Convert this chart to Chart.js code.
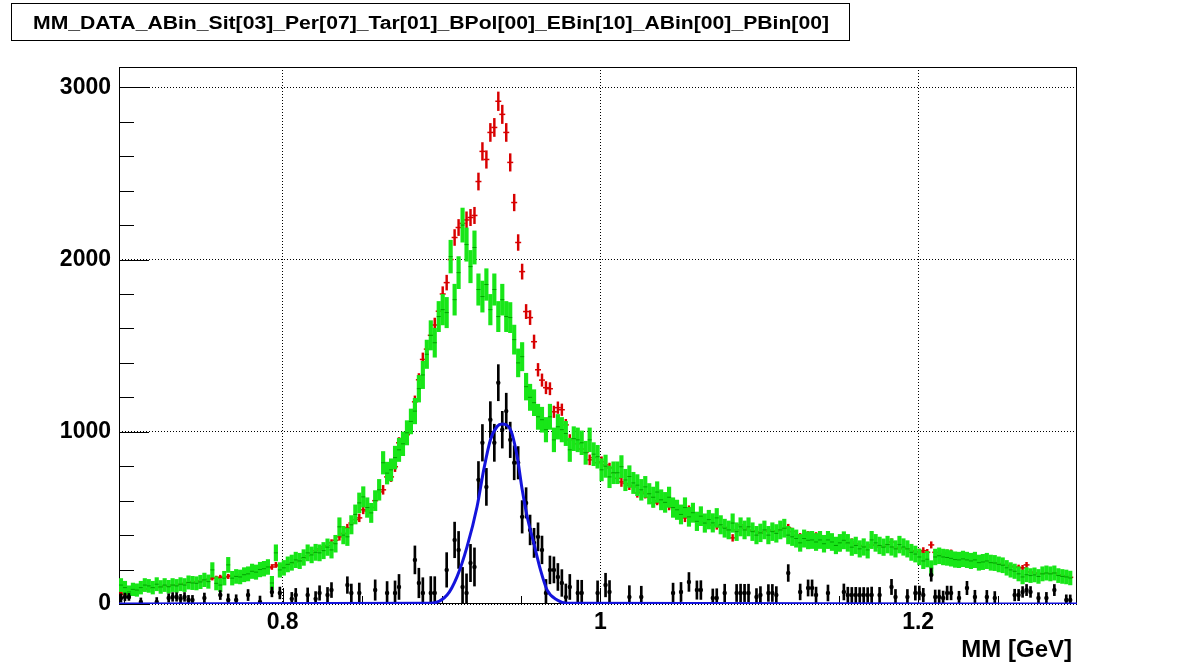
<!DOCTYPE html>
<html lang="en">
<head>
  <meta charset="UTF-8">
  <title>MM histogram</title>
  <style>
    body { margin: 0; background: #fff; }
    #wrap { width: 1196px; height: 672px; }
  </style>
</head>
<body>
  <div id="wrap"><canvas id="myChart" width="1196" height="672"></canvas></div>
  <script src="https://cdn.jsdelivr.net/npm/chart.js"></script>
  <script>
    const histTitle = 'MM_DATA_ABin_Sit[03]_Per[07]_Tar[01]_BPol[00]_EBin[10]_ABin[00]_PBin[00]';
    const xTitle = 'MM [GeV]';

    // 240 bins
    const binStart = 0.697;
    const binWidth = 0.0025;

    const redCounts = [
      64, 55, 70, 70, 75, 80, 85, 90, 95, 95,
      100, 105, 105, 110, 110, 115, 120, 125, 130, 128,
      135, 140, 145, 151, 150, 155, 157, 160, 165, 165,
      170, 178, 186, 190, 195, 200, 205, 210, 215, 227,
      221, 225, 230, 235, 244, 250, 265, 280, 295, 310,
      320, 331, 340, 355, 370, 390, 410, 442, 470, 490,
      500, 547, 540, 560, 600, 651, 663, 738, 738, 797,
      936, 942, 983, 1050, 1174, 1302, 1420, 1480, 1560, 1620,
      1700, 1800, 1866, 2000, 2128, 2186, 2210, 2230, 2244, 2256,
      2453, 2628, 2581, 2738, 2767, 2919, 2843, 2738, 2564, 2331,
      2099, 1930, 1698, 1663, 1523, 1360, 1300, 1256, 1250, 1116,
      1140, 1128, 1040, 953, 960, 930, 900, 880, 837, 850,
      820, 826, 808, 790, 760, 730, 709, 700, 690, 680,
      645, 650, 640, 620, 587, 600, 587, 590, 570, 560,
      550, 530, 500, 547, 520, 506, 500, 480, 459, 460,
      455, 448, 445, 430, 384, 430, 459, 440, 430, 425,
      420, 410, 420, 430, 425, 420, 430, 440, 442, 420,
      400, 390, 395, 401, 401, 395, 390, 370, 343, 350,
      343, 326, 360, 350, 360, 350, 340, 335, 331, 343,
      340, 331, 335, 345, 360, 330, 320, 325, 320, 310,
      305, 302, 310, 300, 343, 300, 285, 290, 297, 297,
      280, 273, 270, 267, 260, 255, 250, 245, 245, 240,
      240, 235, 230, 225, 220, 215, 212, 210, 227, 186,
      180, 178, 175, 178, 176, 180, 170, 165, 160, 155
    ];

    const greenCounts = [
      110, 95, 70, 85, 81, 95, 110, 105, 95, 115,
      99, 110, 100, 110, 105, 115, 110, 125, 122, 120,
      128, 140, 130, 198, 120, 110, 150, 227, 150, 160,
      157, 170, 175, 190, 185, 200, 205, 215, 122, 297,
      198, 210, 230, 240, 256, 250, 270, 297, 285, 300,
      297, 310, 330, 314, 350, 448, 400, 390, 460, 520,
      587, 622, 560, 529, 600, 663, 820, 760, 779, 850,
      895, 930, 994, 1060, 1120, 1250, 1330, 1450, 1560, 1517,
      1669, 1709, 1692, 2017, 1767, 1924, 2200, 2087, 1959, 2070,
      1826, 1785, 1855, 1709, 1826, 1669, 1767, 1669, 1663, 1535,
      1400, 1436, 1262, 1200, 1169, 1087, 1070, 1012, 1087, 953,
      1029, 1012, 990, 895, 960, 953, 936, 878, 953, 870,
      855, 779, 800, 738, 762, 762, 797, 720, 740, 703,
      690, 663, 680, 640, 620, 650, 605, 590, 620, 560,
      547, 520, 560, 506, 530, 480, 510, 470, 490, 471,
      500, 460, 440, 430, 470, 420, 448, 430, 448, 420,
      400, 413, 430, 400, 420, 410, 430, 440, 400, 390,
      380, 355, 380, 370, 372, 360, 372, 350, 372, 360,
      340, 355, 370, 355, 330, 340, 320, 331, 314, 372,
      355, 340, 330, 345, 331, 320, 345, 331, 320, 300,
      290, 273, 250, 260, 209, 273, 280, 273, 270, 265,
      258, 256, 262, 256, 250, 256, 240, 244, 250, 240,
      238, 230, 225, 210, 198, 190, 175, 157, 170, 165,
      169, 160, 175, 180, 175, 180, 165, 160, 157, 151
    ];

    const blackCounts = [
      35, 41, 41, 0, -10, 12, 0, -20, 0, 12,
      -10, 0, 35, 41, 41, 30, 41, 23, 23, -10,
      0, 35, 0, -20, 0, 52, 0, 23, 0, 23,
      -20, 0, 52, 0, -30, 12, 0, -10, 70, 0,
      64, -20, 0, 30, 52, 0, -10, 52, 0, 30,
      64, 0, 52, 81, 0, -30, 0, 110, 64, 0,
      64, 0, -20, 0, 81, 0, -30, 64, 0, 64,
      99, -10, -40, 0, 256, 122, 64, -20, 64, 64,
      0, -30, 198, 0, 372, 314, 99, 64, 238, 215,
      721, 936, 680, 1070, 936, 1285, 1012, 1120, 953, 820,
      820, 506, 587, 430, 355, 390, 314, 64, 198, 198,
      157, 122, 40, 99, 0, 64, 64, 0, -20, 0,
      64, -30, 110, 70, -40, 0, -20, 0, 41, 0,
      -30, 41, 0, -10, 0, -20, 0, 0, -30, 64,
      0, 70, -20, 128, 0, 81, 81, 0, -10, 35,
      35, -20, 64, 0, -30, 64, 64, 64, 64, 0,
      41, 52, 0, 64, 64, 52, 0, -20, 180, -10,
      0, 70, 0, 93, 93, 52, 0, -20, 64, 0,
      -10, 0, 70, 52, 52, 52, 52, 52, 52, 52,
      0, 52, 0, -10, 99, 41, 0, -20, 41, 0,
      64, 64, 52, 0, 169, 41, 41, 35, 64, 64,
      0, 35, -20, 93, 0, 41, 0, -20, 41, 0,
      35, 0, -20, 0, 0, 52, 52, 70, 81, 70,
      0, 35, -10, 35, 0, 81, -20, 0, 23, 23
    ];

    // fitted gaussian
    const fitX = [0.697, 0.893, 0.9035, 0.9098, 0.9161, 0.9224, 0.9266, 0.9308, 0.935, 0.9381,
      0.9434, 0.9476, 0.9508, 0.9539, 0.9581, 0.9623, 0.9665, 0.9728, 0.9791, 1.3];
    const fitY = [0, 4, 52, 159, 333, 566, 780, 954, 1031, 1045,
      1012, 857, 663, 508, 353, 198, 81, 23, 4, 0];

    const xTickValues = [0.8, 1.0, 1.2];
    const xTickLabels = ['0.8', '1', '1.2'];
    const yTickValues = [0, 1000, 2000, 3000];

    const FONT = '"Liberation Sans", Arial, Helvetica, sans-serif';
    const binCenters = redCounts.map((v, i) => binStart + binWidth * (i + 0.5));

    const redErr = redCounts.map(v => Math.sqrt(Math.max(v, 0)));
    const greenErr = greenCounts.map(v => Math.sqrt(4 * Math.max(v, 0) + 1000));
    const blackErr = blackCounts.map((v, i) => Math.sqrt(redCounts[i] + 4.84 * greenCounts[i]));

    function markers(vals) {
      return vals.map((v, i) => ({ x: binCenters[i], y: v })).filter(p => p.y > 0);
    }
    function errorBars(vals, errs) {
      return vals.map((v, i) => ({ x: binCenters[i], y: [Math.max(v - errs[i], 0), v + errs[i]] }))
        .filter((p, i) => vals[i] > 0);
    }

    const rootFrame = {
      id: 'rootFrame',
      beforeDatasetsDraw(chart) {
        const { ctx, chartArea: a, scales } = chart;
        ctx.save();
        ctx.strokeStyle = '#000';
        ctx.lineWidth = 1;
        ctx.strokeRect(a.left + 0.5, a.top + 0.5, a.right - a.left - 1, a.bottom - a.top - 1);
        ctx.beginPath();
        for (let v = 0; v <= 3118; v += 200) {
          const y = Math.round(scales.y.getPixelForValue(v)) + 0.5;
          const len = v % 1000 === 0 ? 30 : 15;
          ctx.moveTo(a.left, y);
          ctx.lineTo(a.left + len, y);
        }
        for (let v = 0.70; v <= 1.3; v += 0.05) {
          const x = Math.round(scales.x.getPixelForValue(v)) + 0.5;
          const major = xTickValues.some(t => Math.abs(t - v) < 1e-6);
          ctx.moveTo(x, a.bottom);
          ctx.lineTo(x, a.bottom - (major ? 16 : 8));
        }
        ctx.stroke();
        ctx.restore();
      },
      afterDraw(chart) {
        const { ctx } = chart;
        ctx.save();
        // title box
        ctx.fillStyle = '#fff';
        ctx.fillRect(11, 3, 838, 37);
        ctx.strokeStyle = '#000';
        ctx.lineWidth = 1;
        ctx.strokeRect(11.5, 3.5, 838, 37);
        ctx.fillStyle = '#000';
        ctx.font = 'bold 18px ' + FONT;
        const w = ctx.measureText(histTitle).width;
        ctx.translate(431, 29);
        ctx.scale(796 / w, 1);
        ctx.textAlign = 'center';
        ctx.textBaseline = 'alphabetic';
        ctx.fillText(histTitle, 0, 0);
        ctx.restore();

        ctx.save();
        ctx.fillStyle = '#000';
        ctx.font = 'bold 24px ' + FONT;
        ctx.textAlign = 'right';
        ctx.textBaseline = 'alphabetic';
        ctx.fillText(xTitle, 1072, 657);
        ctx.restore();
      }
    };

    const ctx = document.getElementById('myChart');
    const tickFont = { family: FONT, size: 23, weight: 'bold' };

    new Chart(ctx, {
      type: 'scatter',
      data: {
        datasets: [
          {
            type: 'line',
            label: 'fit',
            data: fitX.map((x, i) => ({ x: x, y: fitY[i] })),
            borderColor: '#1414dc',
            borderWidth: 3,
            pointRadius: 0,
            showLine: true,
            fill: false,
            cubicInterpolationMode: 'monotone',
            order: 0
          },
          {
            label: 'diff',
            data: markers(blackCounts),
            pointStyle: 'circle',
            pointRadius: 2.2,
            pointBackgroundColor: '#000',
            pointBorderWidth: 0,
            order: 1
          },
          {
            type: 'bar',
            label: 'diff err',
            data: errorBars(blackCounts, blackErr),
            backgroundColor: '#000',
            barThickness: 2,
            grouped: false,
            order: 2
          },
          {
            label: 'bkg',
            data: markers(greenCounts),
            pointStyle: 'line',
            pointRadius: 2,
            pointBorderColor: '#00a000',
            pointBorderWidth: 1,
            order: 3
          },
          {
            type: 'bar',
            label: 'bkg err',
            data: errorBars(greenCounts, greenErr),
            backgroundColor: '#18e618',
            barThickness: 3.5,
            grouped: false,
            order: 4
          },
          {
            label: 'data',
            data: markers(redCounts),
            pointStyle: 'line',
            pointRadius: 3,
            pointBorderColor: '#d80000',
            pointBorderWidth: 1.5,
            order: 5
          },
          {
            type: 'bar',
            label: 'data err',
            data: errorBars(redCounts, redErr),
            backgroundColor: '#d80000',
            barThickness: 1.8,
            grouped: false,
            order: 6
          }
        ]
      },
      options: {
        responsive: false,
        animation: false,
        devicePixelRatio: 1,
        layout: { padding: { top: 67, right: 119, left: 0, bottom: 0 } },
        plugins: {
          legend: { display: false },
          tooltip: { enabled: false },
          title: { display: false }
        },
        scales: {
          x: {
            type: 'linear',
            min: 0.697,
            max: 1.3,
            offset: false,
            afterFit: s => { s.height = 68; },
            afterBuildTicks: s => { s.ticks = xTickValues.map(v => ({ value: v })); },
            ticks: {
              callback: (v, i) => xTickLabels[i],
              font: tickFont,
              color: '#000',
              padding: 5,
              maxRotation: 0,
              autoSkip: false
            },
            grid: { color: '#000', lineWidth: 1, drawTicks: false, offset: false },
            border: { display: false, dash: [1, 2] }
          },
          y: {
            type: 'linear',
            min: 0,
            max: 3118,
            afterFit: s => { s.width = 119; },
            afterBuildTicks: s => { s.ticks = yTickValues.map(v => ({ value: v })); },
            ticks: {
              callback: v => String(v),
              font: tickFont,
              color: '#000',
              padding: 8
            },
            grid: { color: '#000', lineWidth: 1, drawTicks: false },
            border: { display: false, dash: [1, 2] }
          }
        }
      },
      plugins: [rootFrame]
    });
  </script>
</body>
</html>
